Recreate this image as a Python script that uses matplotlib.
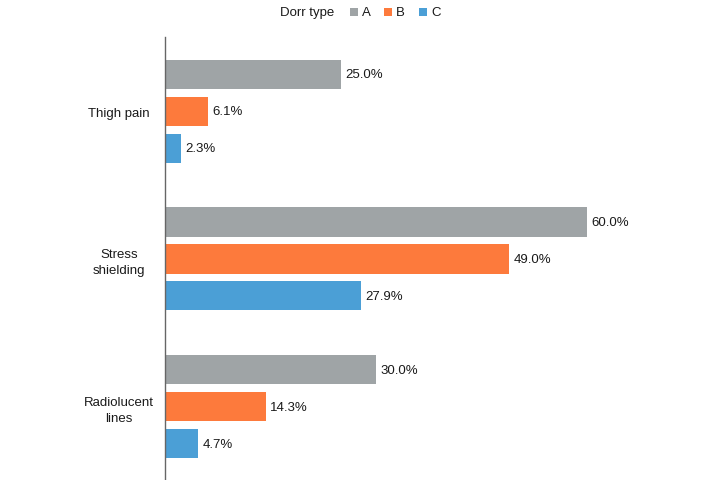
import matplotlib
matplotlib.use("Agg")
import matplotlib.pyplot as plt
from matplotlib.patches import Rectangle
import numpy as np

plt.rcParams['font.family'] = ['Liberation Sans', 'DejaVu Sans']

categories = ["Thigh pain", "Stress\nshielding", "Radiolucent\nlines"]
series = ["A", "B", "C"]
values_A = [25.0, 60.0, 30.0]
values_B = [6.1, 49.0, 14.3]
values_C = [2.3, 27.9, 4.7]
colors = ["#9fa4a6", "#fd7a3c", "#4b9fd6"]

W, H = 724, 481
fig = plt.figure(figsize=(W/100, H/100), dpi=100)
ax = fig.add_axes([165/W, 0, (705-165)/W, 1-38/H])

y = np.arange(len(categories))
offsets = [-0.25, 0.0, 0.25]
h = 0.198
tc = '#1a1a1a'
fs = 9.5
for vals, off, col in zip([values_A, values_B, values_C], offsets, colors):
    bars = ax.barh(y + off, vals, height=h, color=col)
    for b, v in zip(bars, vals):
        ax.text(v + 0.6, b.get_y() + b.get_height()/2, f"{v:.1f}%",
                va='center', ha='left', fontsize=fs, color=tc)

ax.set_ylim(2.497, -0.503)
ax.set_xlim(0, (705-165)/7.03)
ax.set_yticks(y)
ax.set_yticklabels(categories, fontsize=fs, color=tc, ha='center', multialignment='center',
                   linespacing=1.45)
ax.tick_params(axis='y', length=0, pad=33)
ax.set_xticks([])
for s in ['top', 'right', 'bottom']:
    ax.spines[s].set_visible(False)
ax.spines['left'].set_color('#666666')
ax.spines['left'].set_linewidth(1.0)

# legend
fig.text(280/W, 1-13/H, "Dorr type", fontsize=fs, va='center', ha='left', color=tc)
leg_x = [350, 384, 419]
for lx, lab, col in zip(leg_x, series, colors):
    fig.patches.append(Rectangle((lx/W, 1-17/H), 8/W, 8/H, transform=fig.transFigure,
                                 facecolor=col, edgecolor='none'))
    fig.text((lx+12)/W, 1-13/H, lab, fontsize=fs, va='center', ha='left', color=tc)

fig.savefig("out.png", dpi=100)
